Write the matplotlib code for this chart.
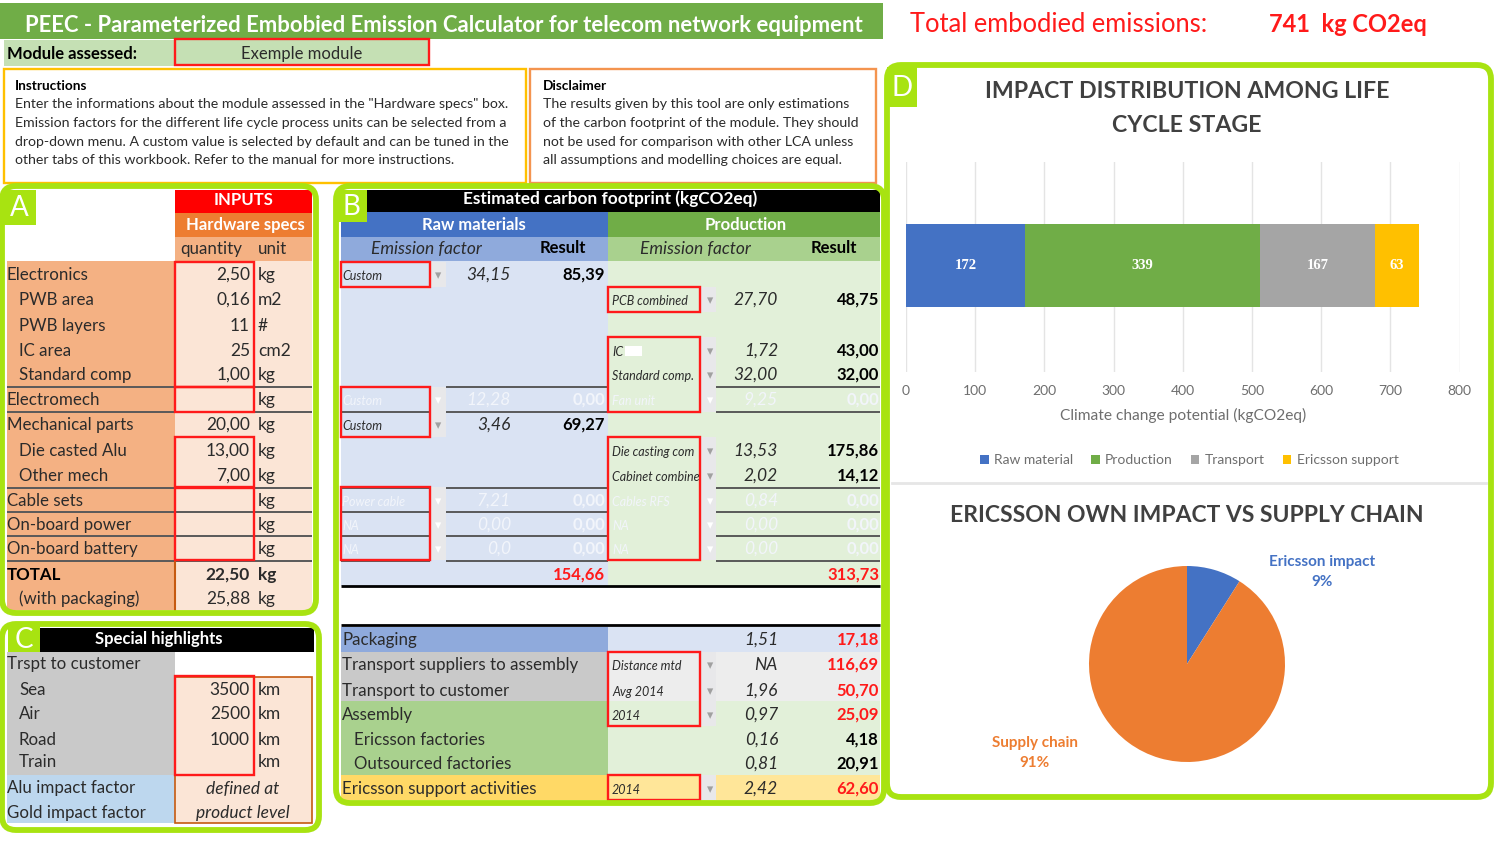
import matplotlib
matplotlib.use('Agg')
import matplotlib.pyplot as plt
from matplotlib.patches import Rectangle, FancyBboxPatch

plt.rcParams['font.family'] = ['Lato', 'DejaVu Sans']

# --- chart data
stages = ['Raw material', 'Production', 'Transport', 'Ericsson support']
stage_values = [172, 339, 167, 63]
stage_colors = ['#4472c4', '#70ad47', '#a5a5a5', '#ffc000']
bar_ticks = [0, 100, 200, 300, 400, 500, 600, 700, 800]
pie_labels = ['Ericsson impact', 'Supply chain']
pie_values = [9, 91]
pie_colors = ['#4472c4', '#ed7d31']

# --- sheet text
instructions = [
    'Enter the informations about the module assessed in the "Hardware specs" box.',
    'Emission factors for the different life cycle process units can be selected from a',
    'drop-down menu. A custom value is selected by default and can be tuned in the',
    'other tabs of this workbook. Refer to the manual for more instructions.',
]
disclaimer = [
    'The results given by this tool are only estimations',
    'of the carbon footprint of the module. They should',
    'not be used for comparison with other LCA unless',
    'all assumptions and modelling choices are equal.',
]
a_labels = ['Electronics', '  PWB area', '  PWB layers', '  IC area', '  Standard comp',
            'Electromech', 'Mechanical parts', '  Die casted Alu', '  Other mech',
            'Cable sets', 'On-board power', 'On-board battery', 'TOTAL', '  (with packaging)']
a_qty = ['2,50', '0,16', '11', '25', '1,00', '', '20,00', '13,00', '7,00', '', '', '', '22,50', '25,88']
a_unit = ['kg', 'm2', '#', 'cm2', 'kg', 'kg', 'kg', 'kg', 'kg', 'kg', 'kg', 'kg', 'kg', 'kg']

raw_menu = ['Custom', '', '', '', '', 'Custom', 'Custom', '', '', 'Power cable', 'NA', 'NA', '']
raw_factor = ['34,15', '', '', '', '', '12,28', '3,46', '', '', '7,21', '0,00', '0,0', '']
raw_result = ['85,39', '', '', '', '', '0,00', '69,27', '', '', '0,00', '0,00', '0,00', '154,66']
prod_menu = ['', 'PCB combined', '', 'IC', 'Standard comp.', 'Fan unit', '', 'Die casting com',
             'Cabinet combine', 'Cables RFS', 'NA', 'NA', '']
prod_factor = ['', '27,70', '', '1,72', '32,00', '9,25', '', '13,53', '2,02', '0,84', '0,00', '0,00', '']
prod_result = ['', '48,75', '', '43,00', '32,00', '0,00', '', '175,86', '14,12', '0,00', '0,00', '0,00', '313,73']
ghost_rows = [5, 9, 10, 11]

low_labels = ['Packaging', 'Transport suppliers to assembly', 'Transport to customer', 'Assembly',
              '  Ericsson factories', '  Outsourced factories', 'Ericsson support activities']
low_menu = ['', 'Distance mtd', 'Avg 2014', '2014', '', '', '2014']
low_factor = ['1,51', 'NA', '1,96', '0,97', '0,16', '0,81', '2,42']
low_result = ['17,18', '116,69', '50,70', '25,09', '4,18', '20,91', '62,60']
low_black = [4, 5]

c_labels = ['Trspt to customer', '  Sea', '  Air', '  Road', '  Train', 'Alu impact factor', 'Gold impact factor']
c_qty = ['', '3500', '2500', '1000', '', '', '']
c_unit = ['', 'km', 'km', 'km', 'km', '', '']

# --- layout, in reference pixels
row_y = [274, 299, 325, 350, 374, 399, 424, 450, 475, 500, 524, 548, 574, 598]
low_y = [639, 664, 690, 714, 739, 763, 788]
c_y = [663, 689, 713, 739, 761, 787, 812]
RED = '#ff1a1a'
LIME = '#a8e311'
INK = '#2b2b2b'
GHOST = '#f2f5fb'

fig = plt.figure(figsize=(15, 8.44), dpi=100, facecolor='white')
sheet = fig.add_axes([0, 0, 1, 1])
sheet.set_xlim(0, 1500)
sheet.set_ylim(844, 0)
sheet.axis('off')


def cell(x0, y0, x1, y1, color, z=1):
    sheet.add_patch(Rectangle((x0, y0), x1 - x0, y1 - y0, fc=color, ec='none', zorder=z))


def box(x0, y0, x1, y1, color=RED, lw=1.7, z=4):
    sheet.add_patch(Rectangle((x0, y0), x1 - x0, y1 - y0, fc='none', ec=color, lw=lw, zorder=z))


def put(x, y, s, size=12, color=INK, ha='left', **kw):
    sheet.text(x, y + 1, s, fontsize=size, color=color, ha=ha, va='center', zorder=5, **kw)


def rule(x0, x1, y, color='#595959', lw=1.4):
    sheet.plot([x0, x1], [y, y], color=color, lw=lw, zorder=3, solid_capstyle='butt')


# top banner
cell(0, 3, 883, 39, '#70ad47')
put(25, 24, 'PEEC - Parameterized Embobied Emission Calculator for telecom network equipment',
    size=15.9, color='white', weight='bold')
put(910, 23, 'Total embodied emissions:', size=18.4, color='#ff1a1a')
put(1269, 23, '741  kg CO2eq', size=17, color='#ff1a1a', weight='bold')
cell(4, 40, 175, 66, '#c5e0b4')
cell(175, 40, 429, 66, '#c5e0b4')
box(175, 39, 429, 65)
put(7, 53, 'Module assessed:', size=12, color='black', weight='bold')
put(302, 53, 'Exemple module', size=12, ha='center')

# instruction boxes
box(4, 69, 526, 183, color='#ffc000')
box(530, 69, 876, 183, color='#f4944f')
put(15, 85, 'Instructions', size=9.8, color='black', weight='bold')
put(543, 85, 'Disclaimer', size=9.8, color='black', weight='bold')
for y, line in zip([103, 122, 141, 159], instructions):
    put(15, y, line, size=10.2)
for y, line in zip([103, 122, 141, 159], disclaimer):
    put(543, y, line, size=10.2)

# panel A
cell(175, 190, 312, 213, '#ff0000')
cell(175, 213, 312, 237, '#ed7d31')
cell(175, 237, 312, 261, '#f4b183')
cell(7, 261, 175, 610, '#f4b183')
cell(175, 261, 312, 610, '#fbe5d6')
put(244, 199, 'INPUTS', size=12, color='white', ha='center', weight='bold')
put(245, 224, 'Hardware specs', size=12, color='white', ha='center', weight='bold')
put(180, 248, 'quantity', size=12.2)
put(258, 248, 'unit', size=12.2)
for i, y in enumerate(row_y):
    bold = 'bold' if i == 12 else 'normal'
    label = a_labels[i]
    if label.startswith('  '):
        put(19, y, label.strip(), size=12.2, weight=bold)
    else:
        put(7, y, label, size=12.2, color='black' if i == 12 else INK, weight=bold)
    put(250, y, a_qty[i], size=12.5, ha='right', weight=bold)
    put(258, y, a_unit[i], size=12.5, weight=bold)
for y in [387, 412, 488, 512, 536, 561]:
    rule(7, 312, y)
box(175, 262, 254, 387)
box(175, 387, 254, 412)
box(175, 437, 254, 487)
box(175, 488, 254, 560)
sheet.plot([175, 175], [561, 610], color='#c55a11', lw=1.5, zorder=3)

# panel B
cell(341, 190, 880, 212, 'black')
put(610, 198, 'Estimated carbon footprint (kgCO2eq)', size=12.4, color='white', ha='center', weight='bold')
cell(341, 212, 608, 237, '#4472c4')
cell(608, 212, 880, 237, '#70ad47')
cell(341, 237, 608, 261, '#8faadc')
cell(608, 237, 880, 261, '#a9d18e')
cell(341, 261, 608, 586, '#dae3f3')
cell(608, 261, 880, 586, '#e2f0d9')
put(474, 224, 'Raw materials', size=12, color='white', ha='center', weight='bold')
put(746, 224, 'Production', size=12, color='white', ha='center', weight='bold')
put(426, 248, 'Emission factor', size=12.5, ha='center', style='italic')
put(695, 248, 'Emission factor', size=12.5, ha='center', style='italic')
put(563, 247, 'Result', size=12, color='black', ha='center', weight='bold')
put(834, 247, 'Result', size=12, color='black', ha='center', weight='bold')

# drop-down arrow columns
for x0, x1, spans in [(430, 446, [(262, 287), (387, 437), (487, 560)]),
                      (700, 716, [(287, 312), (337, 412), (437, 560)])]:
    for y0, y1 in spans:
        cell(x0, y0, x1, y1, '#e8e8ea', z=2)
for i, y in enumerate(row_y[:13]):
    ghost = i in ghost_rows
    txt = GHOST if ghost else INK
    res = GHOST if ghost else 'black'
    if i == 12:
        res = RED
    if raw_menu[i]:
        put(342, y + 1, raw_menu[i], size=9, color=txt, style='italic')
        put(438, y + 1, '\u25be', size=9, color='white' if ghost else '#a0a0a0', ha='center', family='DejaVu Sans')
    if prod_menu[i]:
        put(612, y + 1, prod_menu[i], size=9, color=txt, style='italic')
        put(710, y + 1, '\u25be', size=9, color='white' if ghost else '#a0a0a0', ha='center', family='DejaVu Sans')
    put(511, y, raw_factor[i], size=12.5, color=txt, ha='right', style='italic')
    put(605, y, raw_result[i], size=12, color=res, ha='right', weight='bold')
    put(778, y, prod_factor[i], size=12.5, color=txt, ha='right', style='italic')
    put(879, y, prod_result[i], size=12, color=res, ha='right', weight='bold')
cell(625, 346, 642, 356, 'white', z=4)
for y in [387, 412, 488, 512, 536, 561]:
    rule(341, 430, y)
    rule(446, 608, y)
    rule(716, 880, y)
rule(341, 880, 586, color='black', lw=2)
rule(341, 880, 625, color='black', lw=2)
box(341, 262, 430, 287)
box(341, 387, 430, 437)
box(341, 487, 430, 560)
box(608, 287, 700, 312)
box(608, 337, 700, 412)
box(608, 437, 700, 560)

# lower table in panel B
low_bands = [(627, 652, '#8faadc', '#dae3f3'), (652, 701, '#c9c9c9', '#ededed'),
             (701, 775, '#a9d18e', '#e2f0d9'), (775, 800, '#ffd966', '#ffe699')]
for y0, y1, left, right in low_bands:
    cell(341, y0, 608, y1, left)
    cell(608, y0, 880, y1, right)
for y0, y1 in [(652, 726), (775, 800)]:
    cell(700, y0, 716, y1, '#e8e8ea', z=2)
for i, y in enumerate(low_y):
    label = low_labels[i]
    if label.startswith('  '):
        put(354, y, label.strip(), size=12.2)
    else:
        put(342, y, label, size=12.2)
    if low_menu[i]:
        put(612, y + 1, low_menu[i], size=9, style='italic')
        put(710, y + 1, '\u25be', size=9, color='#a0a0a0', ha='center', family='DejaVu Sans')
    put(778, y, low_factor[i], size=12.5, ha='right', style='italic')
    put(879, y, low_result[i], size=12, color='black' if i in low_black else RED, ha='right', weight='bold')
box(608, 652, 700, 726)
box(608, 775, 700, 800)

# panel C
cell(8, 628, 314, 652, 'black')
put(159, 638, 'Special highlights', size=12, color='white', ha='center', weight='bold')
cell(7, 652, 175, 775, '#c9c9c9')
cell(7, 775, 175, 823, '#bdd7ee')
cell(175, 677, 312, 823, '#fbe5d6')
box(175, 677, 312, 823, color='#c55a11', lw=1.2, z=3)
for i, y in enumerate(c_y):
    label = c_labels[i]
    if label.startswith('  '):
        put(19, y, label.strip(), size=12.2)
    else:
        put(7, y, label, size=12.2)
    put(250, y, c_qty[i], size=12.5, ha='right')
    put(258, y, c_unit[i], size=12.5)
box(175, 676, 254, 775)
put(243, 788, 'defined at', size=12.5, ha='center', style='italic')
put(243, 812, 'product level', size=12.5, ha='center', style='italic')

# lime frames and corner letters
for x0, y0, x1, y1 in [(2, 186, 316, 613), (336, 186, 884, 803), (2, 624, 319, 830), (887, 65, 1491, 797)]:
    sheet.add_patch(FancyBboxPatch((x0, y0), x1 - x0, y1 - y0, boxstyle='round,pad=0,rounding_size=14',
                                   fc='none', ec=LIME, lw=4.2, zorder=6))
for x0, y0, x1, y1, letter in [(2, 190, 36, 225, 'A'), (336, 190, 367, 222, 'B'),
                               (8, 626, 40, 652, 'C'), (887, 67, 917, 107, 'D')]:
    cell(x0, y0, x1, y1, LIME, z=6)
    sheet.text((x0 + x1) / 2, (y0 + y1) / 2 + 1, letter, fontsize=20, color='white', ha='center', va='center', zorder=7)

# chart titles
put(1187, 91, 'IMPACT DISTRIBUTION AMONG LIFE', size=16.7, color='#404040', ha='center', weight='bold')
put(1187, 124, 'CYCLE STAGE', size=16.7, color='#404040', ha='center', weight='bold')
put(1187, 514, 'ERICSSON OWN IMPACT VS SUPPLY CHAIN', size=16.5, color='#404040', ha='center', weight='bold')
sheet.plot([892, 1486], [483, 483], color='#e6e6e6', lw=2, zorder=2)

# stacked bar
ax1 = fig.add_axes([906 / 1500, 1 - 372 / 844, 553.6 / 1500, 210 / 844])
ax1.patch.set_visible(False)
left = 0
for name, value, color in zip(stages, stage_values, stage_colors):
    bars = ax1.barh(0, value, left=left, height=0.79, color=color, label=name, zorder=3)
    ax1.bar_label(bars, label_type='center', color='white', fontsize=10.5, weight='bold',
                  family='Liberation Serif')
    left += value
ax1.set_xlim(0, 800)
ax1.set_ylim(-1.014, 0.986)
ax1.set_xticks(bar_ticks)
ax1.set_yticks([])
ax1.grid(axis='x', color='#e4e4e4', lw=1)
ax1.tick_params(axis='x', length=0, pad=9.5, labelsize=10, labelcolor='#6e6e6e')
for spine in ax1.spines.values():
    spine.set_visible(False)
ax1.set_xlabel('Climate change potential (kgCO2eq)', fontsize=11.2, color='#6e6e6e', labelpad=7.5)
ax1.legend(loc='center', bbox_to_anchor=(0.512, -0.42), ncol=4, frameon=False, fontsize=10,
           labelcolor='#6e6e6e', handlelength=0.6, handleheight=0.6, handletextpad=0.4, columnspacing=1.3)

# pie
ax2 = fig.add_axes([(1187 - 98) / 1500, 1 - (664 + 98) / 844, 196 / 1500, 196 / 844])
ax2.pie(pie_values, colors=pie_colors, startangle=90, counterclock=False, radius=1)
ax2.set_xlim(-1, 1)
ax2.set_ylim(-1, 1)
for w in ax2.patches:
    w.set_clip_on(False)
put(1322, 561, pie_labels[0], size=11, color='#4472c4', ha='center', weight='bold')
put(1322, 581, f'{pie_values[0]}%', size=11, color='#4472c4', ha='center', weight='bold')
put(1035, 742, pie_labels[1], size=11, color='#ed7d31', ha='center', weight='bold')
put(1035, 762, f'{pie_values[1]}%', size=11, color='#ed7d31', ha='center', weight='bold')

fig.savefig('out.png', dpi=100)
